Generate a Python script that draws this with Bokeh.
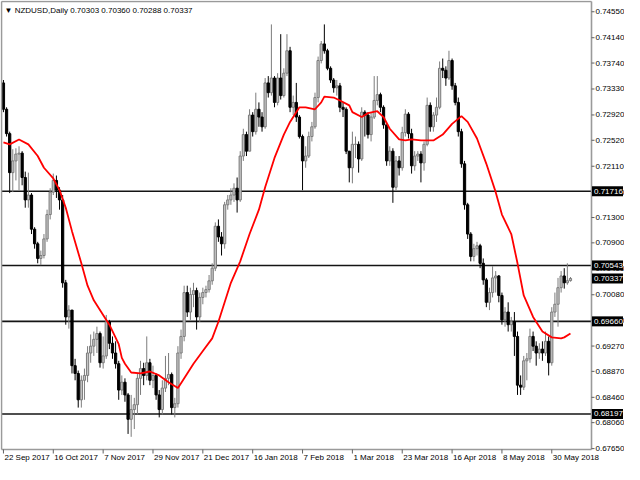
from bokeh.plotting import figure
from bokeh.models import Range1d, ColumnDataSource
from bokeh.core.properties import value
from bokeh.embed import file_html
from bokeh.resources import INLINE

# ---------------- data ----------------
date_labels = ["22 Sep 2017", "16 Oct 2017", "7 Nov 2017", "29 Nov 2017", "21 Dec 2017",
               "16 Jan 2018", "7 Feb 2018", "1 Mar 2018", "23 Mar 2018", "16 Apr 2018",
               "8 May 2018", "30 May 2018"]
date_ticks = [0, 16, 32, 48, 64, 80, 96, 112, 128, 144, 160, 176]

price_ticks = [0.74550, 0.74140, 0.73740, 0.73330, 0.72920, 0.72520, 0.72110, 0.71700,
               0.71300, 0.70900, 0.70490, 0.70080, 0.69670, 0.69270, 0.68870, 0.68460,
               0.68060, 0.67650]

level_lines = [0.71716, 0.70543, 0.69660, 0.68197]
box_prices = [0.71716, 0.70543, 0.70337, 0.69660, 0.68197]

first_open = 0.73426
close = [0.73010, 0.72625, 0.72009, 0.72194, 0.72302, 0.72317, 0.71932, 0.71578, 0.71655, 0.71116,
         0.70885, 0.70654, 0.70700, 0.70962, 0.71347, 0.71701, 0.71886, 0.71732, 0.71578, 0.70269,
         0.69730, 0.69838, 0.68960, 0.68837, 0.68421, 0.68729, 0.68806, 0.69160, 0.69268, 0.69376,
         0.69468, 0.69006, 0.69114, 0.69653, 0.69314, 0.69160, 0.68991, 0.68575, 0.68699, 0.68498,
         0.68113, 0.68267, 0.68344, 0.68760, 0.68914, 0.68806, 0.69006, 0.68729, 0.68806, 0.68498,
         0.68267, 0.68606, 0.68760, 0.68821, 0.68298, 0.68359, 0.69160, 0.69422, 0.70115, 0.69807,
         0.70084, 0.70146, 0.69730, 0.70038, 0.70115, 0.70161, 0.70300, 0.70500, 0.71162, 0.70993,
         0.70885, 0.71501, 0.71578, 0.71655, 0.71763, 0.71578, 0.72271, 0.72610, 0.72348, 0.72918,
         0.72656, 0.73010, 0.72887, 0.72733, 0.73426, 0.73272, 0.73503, 0.73118, 0.73503, 0.73226,
         0.73580, 0.73934, 0.73041, 0.73118, 0.72887, 0.72579, 0.72194, 0.72271, 0.72579, 0.72733,
         0.73195, 0.73780, 0.74042, 0.73934, 0.73657, 0.73472, 0.73349, 0.73380, 0.73041, 0.73010,
         0.72348, 0.72086, 0.72456, 0.72456, 0.72225, 0.72964, 0.72918, 0.72610, 0.72887, 0.73149,
         0.73241, 0.73041, 0.72764, 0.72194, 0.72348, 0.71778, 0.72194, 0.72086, 0.72641, 0.72933,
         0.72625, 0.72117, 0.72271, 0.72302, 0.72163, 0.72456, 0.73072, 0.72733, 0.72918, 0.73041,
         0.73657, 0.73626, 0.73503, 0.73780, 0.73380, 0.73118, 0.72656, 0.72148, 0.71501, 0.71039,
         0.70685, 0.70808, 0.70854, 0.70577, 0.70315, 0.69961, 0.70115, 0.70346, 0.70377, 0.70069,
         0.69683, 0.69807, 0.69607, 0.69653, 0.69422, 0.68652, 0.68621, 0.69037, 0.69068, 0.69422,
         0.69268, 0.69160, 0.69222, 0.69160, 0.69345, 0.69006, 0.69807, 0.69930, 0.70192, 0.70377,
         0.70269, 0.70303, 0.70337]
high = [0.73472, 0.73041, 0.72656, 0.72379, 0.72394, 0.72425, 0.72348, 0.72025, 0.72009, 0.71686,
        0.71147, 0.70916, 0.70777, 0.71039, 0.71424, 0.71763, 0.71994, 0.71963, 0.71778, 0.71655,
        0.70315, 0.69915, 0.69838, 0.69068, 0.68883, 0.68806, 0.68914, 0.69268, 0.69453, 0.69499,
        0.69576, 0.69499, 0.69422, 0.69761, 0.69683, 0.69422, 0.69345, 0.69037, 0.68806, 0.68760,
        0.68529, 0.68498, 0.68452, 0.68837, 0.69037, 0.69006, 0.69422, 0.69068, 0.68960, 0.68837,
        0.68575, 0.68729, 0.69114, 0.69160, 0.68852, 0.68452, 0.69268, 0.69530, 0.70223, 0.70223,
        0.70192, 0.70269, 0.70192, 0.70115, 0.70192, 0.70223, 0.70392, 0.70577, 0.71223, 0.71270,
        0.71070, 0.71547, 0.71655, 0.71763, 0.71840, 0.71932, 0.72348, 0.72702, 0.72656, 0.73010,
        0.72964, 0.73272, 0.73118, 0.72964, 0.73503, 0.73534, 0.74350, 0.73534, 0.73580, 0.74196,
        0.73657, 0.74196, 0.73996, 0.73226, 0.73426, 0.72918, 0.72610, 0.72425, 0.72656, 0.72810,
        0.73272, 0.73842, 0.74088, 0.74350, 0.73965, 0.73688, 0.73503, 0.73472, 0.73426, 0.73118,
        0.73041, 0.72348, 0.72656, 0.72579, 0.72502, 0.73041, 0.72995, 0.72964, 0.72964, 0.73534,
        0.73534, 0.73272, 0.73072, 0.72764, 0.72425, 0.72394, 0.72271, 0.72271, 0.72733, 0.73010,
        0.72964, 0.72702, 0.72348, 0.72348, 0.72348, 0.72502, 0.73195, 0.73118, 0.72964, 0.73195,
        0.73765, 0.73811, 0.73688, 0.73934, 0.73811, 0.73426, 0.73195, 0.72702, 0.72194, 0.71532,
        0.71070, 0.70885, 0.70916, 0.70885, 0.70654, 0.70346, 0.70192, 0.70531, 0.70454, 0.70392,
        0.70115, 0.69884, 0.69961, 0.69730, 0.69807, 0.69499, 0.68806, 0.69114, 0.69160, 0.69545,
        0.69499, 0.69345, 0.69314, 0.69345, 0.69499, 0.69422, 0.69884, 0.70115, 0.70346, 0.70454,
        0.70500, 0.70577, 0.70360]
low = [0.72964, 0.72579, 0.71686, 0.71701, 0.71886, 0.71732, 0.71809, 0.71455, 0.71455, 0.71039,
       0.70808, 0.70577, 0.70547, 0.70654, 0.70916, 0.71270, 0.71655, 0.71609, 0.71424, 0.70192,
       0.69607, 0.69545, 0.68837, 0.68729, 0.68298, 0.68298, 0.68421, 0.68699, 0.69006, 0.69114,
       0.69160, 0.68929, 0.68914, 0.69068, 0.69222, 0.69068, 0.68914, 0.68421, 0.68498, 0.68390,
       0.67882, 0.67836, 0.67959, 0.68190, 0.68498, 0.68652, 0.68729, 0.68652, 0.68606, 0.68421,
       0.68143, 0.68190, 0.68544, 0.68652, 0.68190, 0.68143, 0.68298, 0.69068, 0.69345, 0.69730,
       0.69683, 0.69884, 0.69530, 0.69653, 0.69930, 0.70038, 0.70115, 0.70238, 0.70454, 0.70916,
       0.70700, 0.70808, 0.71424, 0.71501, 0.71547, 0.71378, 0.71547, 0.72194, 0.72271, 0.72348,
       0.72579, 0.72610, 0.72733, 0.72656, 0.72702, 0.73195, 0.73226, 0.73041, 0.73072, 0.73164,
       0.73195, 0.73534, 0.72964, 0.72918, 0.72810, 0.72548, 0.71732, 0.72086, 0.72240, 0.72502,
       0.72702, 0.73118, 0.73734, 0.73888, 0.73626, 0.73426, 0.73272, 0.73226, 0.72964, 0.72887,
       0.72302, 0.71855, 0.71840, 0.72240, 0.72009, 0.72194, 0.72579, 0.72548, 0.72502, 0.72856,
       0.73072, 0.72964, 0.72702, 0.72117, 0.72117, 0.71532, 0.71732, 0.71963, 0.72040, 0.72579,
       0.72548, 0.71994, 0.72040, 0.72194, 0.71855, 0.72040, 0.72425, 0.72656, 0.72656, 0.72810,
       0.73010, 0.73503, 0.73380, 0.73472, 0.73318, 0.73072, 0.72579, 0.72086, 0.71424, 0.70962,
       0.70608, 0.70608, 0.70700, 0.70500, 0.70238, 0.69884, 0.69838, 0.70038, 0.70115, 0.69961,
       0.69607, 0.69576, 0.69499, 0.69499, 0.69114, 0.68498, 0.68498, 0.68575, 0.68729, 0.69006,
       0.69191, 0.68960, 0.69068, 0.69037, 0.69114, 0.68806, 0.68960, 0.69730, 0.69576, 0.70115,
       0.70177, 0.70238, 0.70288]

# red moving average, read at sample bars
ma_idx = [0, 2, 5, 8, 11, 13, 16, 18, 20, 22, 25, 27, 29, 32, 34, 37, 38, 39, 41, 44, 47, 50,
          53, 56, 57, 61, 64, 67, 69, 71, 73, 76, 79, 82, 84, 87, 90, 92, 95, 97, 100, 102, 103,
          106, 108, 111, 112, 115, 117, 120, 122, 124, 127, 129, 131, 134, 138, 141, 144, 147,
          149, 152, 155, 158, 160, 163, 165, 167, 170, 173, 176, 179, 180, 182]
ma_val = [0.72487, 0.72456, 0.72533, 0.72456, 0.72271, 0.72086, 0.71917, 0.71732, 0.71455,
          0.71085, 0.70577, 0.70223, 0.69992, 0.69761, 0.69607, 0.69299, 0.69083, 0.68991,
          0.68852, 0.68837, 0.68868, 0.68806, 0.68699, 0.68606, 0.68683, 0.68991, 0.69191,
          0.69391, 0.69653, 0.69961, 0.70269, 0.70608, 0.71039, 0.71424, 0.71779, 0.72241,
          0.72610, 0.72810, 0.73041, 0.73041, 0.73010, 0.73118, 0.73210, 0.73195, 0.73149,
          0.73072, 0.72964, 0.72887, 0.72949, 0.72979, 0.72887, 0.72702, 0.72533, 0.72517,
          0.72533, 0.72517, 0.72517, 0.72610, 0.72779, 0.72902, 0.72810, 0.72548, 0.72148,
          0.71701, 0.71347, 0.71039, 0.70577, 0.70069, 0.69730, 0.69499, 0.69407, 0.69391,
          0.69407, 0.69468]

title_text = "\u25BC NZDUSD,Daily  0.70303 0.70360 0.70288 0.70337"

# ---------------- geometry of the chart window ----------------
W, H = 624, 464
X0, X1 = -0.625, 188.75          # visible bar range of the price window
Y0, Y1 = 0.67636, 0.74712        # visible price range of the price window
AREA_L, AREA_T = 1, 1            # price window position inside the canvas (px)
AREA_W, AREA_H = 590, 448
BPX = (X1 - X0) / AREA_W         # bars per pixel
PPX = (Y1 - Y0) / AREA_H         # price per pixel
xr_start = X0 - AREA_L * BPX
yr_end = Y1 + AREA_T * PPX

FONT = "Liberation Sans"
GRAY = "#9a9a9a"

# daily forex bars open at the previous bar's close
opens = [first_open] + close[:-1]
idx = list(range(len(close)))

bull = dict(x=[], top=[], bottom=[], hi=[], lo=[])
bear = dict(x=[], top=[], bottom=[], hi=[], lo=[])
for i, o, c, h, l in zip(idx, opens, close, high, low):
    d = bull if c >= o else bear
    d["x"].append(i)
    d["top"].append(max(o, c))
    d["bottom"].append(min(o, c))
    d["hi"].append(h)
    d["lo"].append(l)

p = figure(width=W, height=H,
           x_range=Range1d(xr_start, xr_start + W * BPX),
           y_range=Range1d(yr_end - H * PPX, yr_end),
           x_axis_location=None, y_axis_location=None,
           toolbar_location=None, output_backend="svg",
           min_border=0, background_fill_color="white", border_fill_color="white")
p.grid.visible = False
p.outline_line_color = None

# level lines
n_lv = len(level_lines)
p.segment(x0=[X0] * n_lv, y0=level_lines, x1=[X1] * n_lv, y1=level_lines,
          line_color="#141414", line_width=1.6)

# candles
bs = ColumnDataSource(bull)
ds = ColumnDataSource(bear)
p.segment(x0="x", y0="lo", x1="x", y1="hi", source=bs, line_color="#7c7c7c", line_width=1)
p.segment(x0="x", y0="lo", x1="x", y1="hi", source=ds, line_color="#000000", line_width=1)
p.vbar(x="x", top="top", bottom="bottom", width=0.72, source=bs,
       fill_color="#c4c4c4", line_color="#7c7c7c", line_width=1)
p.vbar(x="x", top="top", bottom="bottom", width=0.72, source=ds,
       fill_color="#000000", line_color="#000000", line_width=1)

# moving average
p.line(ma_idx, ma_val, line_color="#ff0000", line_width=1.8)

# window border (left, top, bottom) and price scale line (right)
p.segment(x0=[X0, X0, X0, X1], y0=[Y0, Y1, Y0, Y0], x1=[X0, X1, X1, X1], y1=[Y1, Y1, Y0, Y1],
          line_color=GRAY, line_width=1.6)

# price scale ticks and labels
n_pt = len(price_ticks)
p.segment(x0=[X1] * n_pt, y0=price_ticks, x1=[X1 + 3 * BPX] * n_pt, y1=price_ticks,
          line_color="#606060", line_width=1)
p.text(x=[X1 + 4 * BPX] * n_pt, y=price_ticks, text=[f"{t:.5f}" for t in price_ticks],
       text_font=value(FONT), text_font_size="8px", text_color="#000000",
       text_align="left", text_baseline="middle")

# highlighted price boxes
n_bx = len(box_prices)
p.rect(x=[X1 + 16 * BPX] * n_bx, y=box_prices, width=31, height=10,
       width_units="screen", height_units="screen", fill_color="#000000", line_color=None)
p.text(x=[X1 + 2.5 * BPX] * n_bx, y=box_prices, text=[f"{b:.5f}" for b in box_prices],
       text_font=value(FONT), text_font_size="8px", text_color="#ffffff",
       text_align="left", text_baseline="middle")

# time scale ticks and labels
n_dt = len(date_ticks)
p.segment(x0=date_ticks, y0=[Y0] * n_dt, x1=date_ticks, y1=[Y0 - 4 * PPX] * n_dt,
          line_color="#606060", line_width=1)
p.text(x=[t + 1 * BPX for t in date_ticks], y=[Y0 - 3 * PPX] * n_dt, text=date_labels,
       text_font=value(FONT), text_font_size="8px", text_color="#000000",
       text_align="left", text_baseline="top")

# title
p.text(x=[X0 + 3 * BPX], y=[Y1 - 9 * PPX], text=[title_text],
       text_font=value(FONT), text_font_size="8px", text_color="#000000",
       text_align="left", text_baseline="middle")

open("out.html", "w").write(file_html(p, INLINE))
